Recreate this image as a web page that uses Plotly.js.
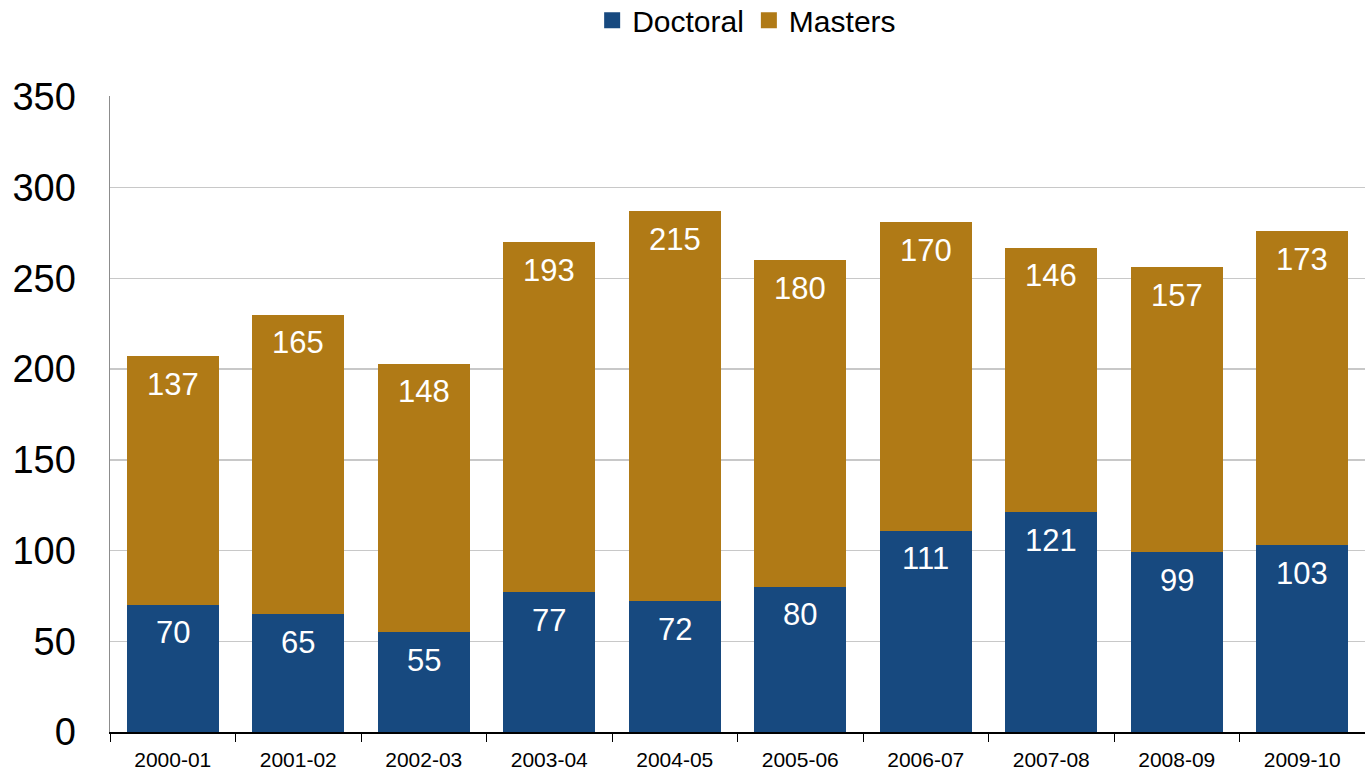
<!DOCTYPE html>
<html>
<head>
<meta charset="utf-8">
<script src="https://cdn.plot.ly/plotly-3.0.1.min.js"></script>
<style>html,body{margin:0;padding:0;background:#fff;}#chart{width:1365px;height:775px;}</style>
</head>
<body>
<div id="chart"></div>
<script>
const years = ["2000-01","2001-02","2002-03","2003-04","2004-05","2005-06","2006-07","2007-08","2008-09","2009-10"];
const doctoral = [70, 65, 55, 77, 72, 80, 111, 121, 99, 103];
const masters = [137, 165, 148, 193, 215, 180, 170, 146, 157, 173];
const seriesNames = ["Doctoral", "Masters"];

const blue = "#17497F";
const gold = "#B07A16";
const font = "Liberation Sans, Arial, sans-serif";

const traces = [
  {type: "bar", name: seriesNames[0], x: years, y: doctoral, marker: {color: blue}, hoverinfo: "skip", showlegend: false},
  {type: "bar", name: seriesNames[1], x: years, y: masters, marker: {color: gold}, hoverinfo: "skip", showlegend: false},
  // legend-only entries with larger square swatches
  {type: "scatter", mode: "markers", name: seriesNames[0], x: [null], y: [null],
    marker: {symbol: "square", size: 22, color: blue}, hoverinfo: "skip"},
  {type: "scatter", mode: "markers", name: seriesNames[1], x: [null], y: [null],
    marker: {symbol: "square", size: 22, color: gold}, hoverinfo: "skip"}
];

const annotations = [];
years.forEach((yr, i) => {
  annotations.push({x: yr, y: doctoral[i], xref: "x", yref: "y", text: String(doctoral[i]),
    showarrow: false, yanchor: "middle", yshift: -28, font: {family: font, size: 31, color: "#fff"}});
  annotations.push({x: yr, y: doctoral[i] + masters[i], xref: "x", yref: "y", text: String(masters[i]),
    showarrow: false, yanchor: "middle", yshift: -28, font: {family: font, size: 31, color: "#fff"}});
});

const layout = {
  width: 1365, height: 775,
  margin: {l: 110, r: 0, t: 96, b: 43},
  paper_bgcolor: "#fff", plot_bgcolor: "#fff",
  barmode: "stack",
  bargap: 0.27,
  font: {family: font, color: "#000"},
  showlegend: true,
  legend: {orientation: "h", x: 0.547, xref: "container", xanchor: "center", y: 0.974, yref: "container", yanchor: "middle",
    font: {family: font, size: 30, color: "#000"}, itemwidth: 30, traceorder: "normal", itemsizing: "trace"},
  xaxis: {type: "category", tickson: "boundaries", ticks: "outside", ticklen: 8, tickcolor: "#000",
    showline: true, linecolor: "#000", linewidth: 1.5, showgrid: false, ticklabelstandoff: 8,
    tickfont: {family: font, size: 21, color: "#000"}, fixedrange: true},
  yaxis: {range: [0, 350.5], tickvals: [0, 50, 100, 150, 200, 250, 300, 350], showgrid: true, gridcolor: "#C8C8C8", gridwidth: 1.5,
    showline: true, linecolor: "#8C8C8C", linewidth: 1.5, ticks: "", ticklabelstandoff: 25,
    zeroline: false, tickfont: {family: font, size: 38, color: "#000"}, fixedrange: true},
  annotations: annotations
};

Plotly.newPlot("chart", traces, layout, {displayModeBar: false, staticPlot: true});
</script>
</body>
</html>
